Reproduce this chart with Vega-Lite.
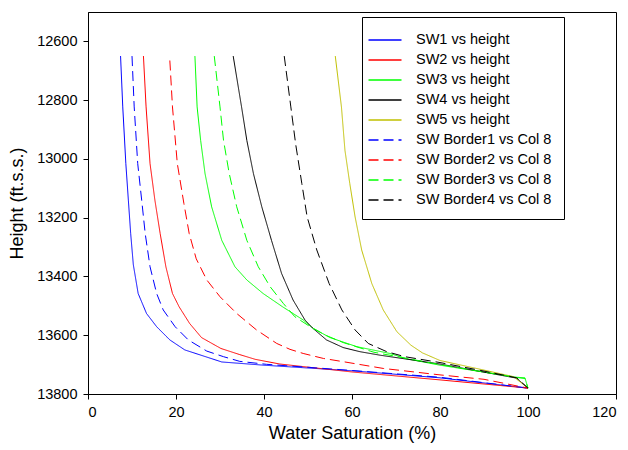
{
  "$schema": "https://vega.github.io/schema/vega-lite/v6.json",
  "width": 528,
  "height": 382,
  "autosize": {"type": "none"},
  "padding": {"left": 88, "top": 12, "right": 12, "bottom": 56},
  "background": "white",
  "config": {
    "font": "Liberation Sans",
    "view": {"stroke": "black", "strokeWidth": 1},
    "axis": {
      "grid": false,
      "domainColor": "black",
      "tickColor": "black",
      "labelColor": "black",
      "titleColor": "black",
      "labelFontSize": 14.5,
      "titleFontSize": 18,
      "titleFontWeight": "normal",
      "tickSize": 5,
      "labelPadding": 6
    },
    "legend": {
      "labelFontSize": 14.5,
      "labelColor": "black",
      "strokeColor": "black",
      "fillColor": "white",
      "padding": 12,
      "rowPadding": 2,
      "symbolStrokeWidth": 1.5,
      "symbolType": "M-1.65,0H1.65",
      "symbolSize": 400,
      "labelOffset": 20
    }
  },
  "data": {
    "values": [
      {"series": "SW1 vs height", "sw": 7.4, "h": 12650},
      {"series": "SW1 vs height", "sw": 7.9, "h": 12823},
      {"series": "SW1 vs height", "sw": 8.6, "h": 13016},
      {"series": "SW1 vs height", "sw": 9.17, "h": 13140},
      {"series": "SW1 vs height", "sw": 9.7, "h": 13254},
      {"series": "SW1 vs height", "sw": 10.3, "h": 13360},
      {"series": "SW1 vs height", "sw": 11.4, "h": 13458},
      {"series": "SW1 vs height", "sw": 13.3, "h": 13526},
      {"series": "SW1 vs height", "sw": 15.6, "h": 13571},
      {"series": "SW1 vs height", "sw": 18.6, "h": 13616},
      {"series": "SW1 vs height", "sw": 22.0, "h": 13650},
      {"series": "SW1 vs height", "sw": 30.4, "h": 13691},
      {"series": "SW1 vs height", "sw": 40, "h": 13702},
      {"series": "SW1 vs height", "sw": 60, "h": 13721},
      {"series": "SW1 vs height", "sw": 80, "h": 13745},
      {"series": "SW1 vs height", "sw": 100, "h": 13780},

      {"series": "SW2 vs height", "sw": 12.6, "h": 12650},
      {"series": "SW2 vs height", "sw": 13.2, "h": 12823},
      {"series": "SW2 vs height", "sw": 14.1, "h": 13016},
      {"series": "SW2 vs height", "sw": 15.2, "h": 13140},
      {"series": "SW2 vs height", "sw": 16.4, "h": 13254},
      {"series": "SW2 vs height", "sw": 17.7, "h": 13367},
      {"series": "SW2 vs height", "sw": 19.2, "h": 13458},
      {"series": "SW2 vs height", "sw": 20.7, "h": 13503},
      {"series": "SW2 vs height", "sw": 23.1, "h": 13560},
      {"series": "SW2 vs height", "sw": 25.8, "h": 13608},
      {"series": "SW2 vs height", "sw": 30.2, "h": 13645},
      {"series": "SW2 vs height", "sw": 34.5, "h": 13666},
      {"series": "SW2 vs height", "sw": 38.0, "h": 13682},
      {"series": "SW2 vs height", "sw": 43.6, "h": 13698},
      {"series": "SW2 vs height", "sw": 60, "h": 13725},
      {"series": "SW2 vs height", "sw": 80, "h": 13752},
      {"series": "SW2 vs height", "sw": 100, "h": 13780},

      {"series": "SW3 vs height", "sw": 24.3, "h": 12650},
      {"series": "SW3 vs height", "sw": 24.8, "h": 12823},
      {"series": "SW3 vs height", "sw": 25.6, "h": 12937},
      {"series": "SW3 vs height", "sw": 26.6, "h": 13050},
      {"series": "SW3 vs height", "sw": 28.1, "h": 13163},
      {"series": "SW3 vs height", "sw": 30.4, "h": 13277},
      {"series": "SW3 vs height", "sw": 33.4, "h": 13367},
      {"series": "SW3 vs height", "sw": 36.1, "h": 13412},
      {"series": "SW3 vs height", "sw": 39.8, "h": 13458},
      {"series": "SW3 vs height", "sw": 44.2, "h": 13503},
      {"series": "SW3 vs height", "sw": 48.9, "h": 13548},
      {"series": "SW3 vs height", "sw": 51.2, "h": 13577},
      {"series": "SW3 vs height", "sw": 55.0, "h": 13608},
      {"series": "SW3 vs height", "sw": 61.1, "h": 13639},
      {"series": "SW3 vs height", "sw": 68.6, "h": 13662},
      {"series": "SW3 vs height", "sw": 72.4, "h": 13680},
      {"series": "SW3 vs height", "sw": 80, "h": 13702},
      {"series": "SW3 vs height", "sw": 97.4, "h": 13743},
      {"series": "SW3 vs height", "sw": 99.3, "h": 13745},
      {"series": "SW3 vs height", "sw": 100, "h": 13780},

      {"series": "SW4 vs height", "sw": 33.0, "h": 12650},
      {"series": "SW4 vs height", "sw": 34.9, "h": 12823},
      {"series": "SW4 vs height", "sw": 36.1, "h": 12937},
      {"series": "SW4 vs height", "sw": 37.6, "h": 13050},
      {"series": "SW4 vs height", "sw": 39.5, "h": 13163},
      {"series": "SW4 vs height", "sw": 41.7, "h": 13277},
      {"series": "SW4 vs height", "sw": 44.0, "h": 13390},
      {"series": "SW4 vs height", "sw": 46.6, "h": 13480},
      {"series": "SW4 vs height", "sw": 49.3, "h": 13548},
      {"series": "SW4 vs height", "sw": 51.0, "h": 13575},
      {"series": "SW4 vs height", "sw": 54.2, "h": 13616},
      {"series": "SW4 vs height", "sw": 58.0, "h": 13642},
      {"series": "SW4 vs height", "sw": 61.8, "h": 13656},
      {"series": "SW4 vs height", "sw": 66.4, "h": 13668},
      {"series": "SW4 vs height", "sw": 80, "h": 13698},
      {"series": "SW4 vs height", "sw": 97.4, "h": 13746},
      {"series": "SW4 vs height", "sw": 100, "h": 13780},

      {"series": "SW5 vs height", "sw": 56.2, "h": 12650},
      {"series": "SW5 vs height", "sw": 57.6, "h": 12823},
      {"series": "SW5 vs height", "sw": 58.4, "h": 12971},
      {"series": "SW5 vs height", "sw": 59.5, "h": 13084},
      {"series": "SW5 vs height", "sw": 60.7, "h": 13197},
      {"series": "SW5 vs height", "sw": 62.2, "h": 13310},
      {"series": "SW5 vs height", "sw": 64.5, "h": 13424},
      {"series": "SW5 vs height", "sw": 67.1, "h": 13514},
      {"series": "SW5 vs height", "sw": 70.2, "h": 13588},
      {"series": "SW5 vs height", "sw": 73.4, "h": 13634},
      {"series": "SW5 vs height", "sw": 76, "h": 13660},
      {"series": "SW5 vs height", "sw": 80, "h": 13686},
      {"series": "SW5 vs height", "sw": 89.8, "h": 13718},
      {"series": "SW5 vs height", "sw": 96.7, "h": 13741},
      {"series": "SW5 vs height", "sw": 100, "h": 13780},

      {"series": "SW Border1 vs Col 8", "sw": 10.0, "h": 12650},
      {"series": "SW Border1 vs Col 8", "sw": 10.5, "h": 12823},
      {"series": "SW Border1 vs Col 8", "sw": 11.3, "h": 13016},
      {"series": "SW Border1 vs Col 8", "sw": 12.2, "h": 13140},
      {"series": "SW Border1 vs Col 8", "sw": 13.0, "h": 13254},
      {"series": "SW Border1 vs Col 8", "sw": 14.1, "h": 13367},
      {"series": "SW Border1 vs Col 8", "sw": 15.6, "h": 13458},
      {"series": "SW Border1 vs Col 8", "sw": 17.1, "h": 13514},
      {"series": "SW Border1 vs Col 8", "sw": 19.8, "h": 13571},
      {"series": "SW Border1 vs Col 8", "sw": 22.8, "h": 13616},
      {"series": "SW Border1 vs Col 8", "sw": 27.0, "h": 13654},
      {"series": "SW Border1 vs Col 8", "sw": 30.8, "h": 13673},
      {"series": "SW Border1 vs Col 8", "sw": 34.5, "h": 13689},
      {"series": "SW Border1 vs Col 8", "sw": 40.6, "h": 13699},
      {"series": "SW Border1 vs Col 8", "sw": 60, "h": 13720},
      {"series": "SW Border1 vs Col 8", "sw": 80, "h": 13743},
      {"series": "SW Border1 vs Col 8", "sw": 100, "h": 13780},

      {"series": "SW Border2 vs Col 8", "sw": 18.6, "h": 12665},
      {"series": "SW Border2 vs Col 8", "sw": 19.2, "h": 12823},
      {"series": "SW Border2 vs Col 8", "sw": 20.3, "h": 13016},
      {"series": "SW Border2 vs Col 8", "sw": 21.8, "h": 13152},
      {"series": "SW Border2 vs Col 8", "sw": 23.0, "h": 13254},
      {"series": "SW Border2 vs Col 8", "sw": 24.6, "h": 13340},
      {"series": "SW Border2 vs Col 8", "sw": 27.0, "h": 13412},
      {"series": "SW Border2 vs Col 8", "sw": 30.0, "h": 13469},
      {"series": "SW Border2 vs Col 8", "sw": 33.8, "h": 13526},
      {"series": "SW Border2 vs Col 8", "sw": 38.3, "h": 13582},
      {"series": "SW Border2 vs Col 8", "sw": 42.9, "h": 13628},
      {"series": "SW Border2 vs Col 8", "sw": 45.9, "h": 13648},
      {"series": "SW Border2 vs Col 8", "sw": 48.9, "h": 13662},
      {"series": "SW Border2 vs Col 8", "sw": 53.5, "h": 13679},
      {"series": "SW Border2 vs Col 8", "sw": 58, "h": 13690},
      {"series": "SW Border2 vs Col 8", "sw": 67.1, "h": 13713},
      {"series": "SW Border2 vs Col 8", "sw": 80, "h": 13735},
      {"series": "SW Border2 vs Col 8", "sw": 90, "h": 13750},
      {"series": "SW Border2 vs Col 8", "sw": 100, "h": 13780},

      {"series": "SW Border3 vs Col 8", "sw": 28.7, "h": 12650},
      {"series": "SW Border3 vs Col 8", "sw": 30.0, "h": 12823},
      {"series": "SW Border3 vs Col 8", "sw": 30.8, "h": 12937},
      {"series": "SW Border3 vs Col 8", "sw": 32.1, "h": 13050},
      {"series": "SW Border3 vs Col 8", "sw": 33.8, "h": 13163},
      {"series": "SW Border3 vs Col 8", "sw": 36.1, "h": 13277},
      {"series": "SW Border3 vs Col 8", "sw": 38.7, "h": 13367},
      {"series": "SW Border3 vs Col 8", "sw": 41.4, "h": 13435},
      {"series": "SW Border3 vs Col 8", "sw": 44.4, "h": 13492},
      {"series": "SW Border3 vs Col 8", "sw": 47.0, "h": 13537},
      {"series": "SW Border3 vs Col 8", "sw": 50.5, "h": 13571},
      {"series": "SW Border3 vs Col 8", "sw": 54, "h": 13600},
      {"series": "SW Border3 vs Col 8", "sw": 58, "h": 13625},
      {"series": "SW Border3 vs Col 8", "sw": 65, "h": 13658},
      {"series": "SW Border3 vs Col 8", "sw": 80, "h": 13700},
      {"series": "SW Border3 vs Col 8", "sw": 97.4, "h": 13744},
      {"series": "SW Border3 vs Col 8", "sw": 99.3, "h": 13747},
      {"series": "SW Border3 vs Col 8", "sw": 100, "h": 13780},

      {"series": "SW Border4 vs Col 8", "sw": 44.6, "h": 12650},
      {"series": "SW Border4 vs Col 8", "sw": 46.1, "h": 12823},
      {"series": "SW Border4 vs Col 8", "sw": 47.2, "h": 12950},
      {"series": "SW Border4 vs Col 8", "sw": 48.6, "h": 13084},
      {"series": "SW Border4 vs Col 8", "sw": 49.8, "h": 13197},
      {"series": "SW Border4 vs Col 8", "sw": 52.0, "h": 13310},
      {"series": "SW Border4 vs Col 8", "sw": 54.8, "h": 13424},
      {"series": "SW Border4 vs Col 8", "sw": 57.7, "h": 13514},
      {"series": "SW Border4 vs Col 8", "sw": 60.7, "h": 13582},
      {"series": "SW Border4 vs Col 8", "sw": 63.7, "h": 13628},
      {"series": "SW Border4 vs Col 8", "sw": 67.9, "h": 13656},
      {"series": "SW Border4 vs Col 8", "sw": 72.0, "h": 13673},
      {"series": "SW Border4 vs Col 8", "sw": 80, "h": 13693},
      {"series": "SW Border4 vs Col 8", "sw": 90, "h": 13722},
      {"series": "SW Border4 vs Col 8", "sw": 97.4, "h": 13745},
      {"series": "SW Border4 vs Col 8", "sw": 100, "h": 13780}
    ]
  },
  "mark": {"type": "line", "strokeWidth": 1, "clip": true},
  "encoding": {
    "x": {
      "field": "sw",
      "type": "quantitative",
      "scale": {"domain": [0, 120], "nice": false},
      "axis": {"title": "Water Saturation (%)", "values": [0, 20, 40, 60, 80, 100, 120], "titlePadding": 6}
    },
    "y": {
      "field": "h",
      "type": "quantitative",
      "scale": {"domain": [12500, 13800], "reverse": true, "nice": false, "zero": false},
      "axis": {"title": "Height (ft.s.s.)", "values": [12600, 12800, 13000, 13200, 13400, 13600, 13800], "format": "d", "titlePadding": 10}
    },
    "order": {"field": "h", "type": "quantitative"},
    "color": {
      "field": "series",
      "type": "nominal",
      "scale": {
        "domain": ["SW1 vs height", "SW2 vs height", "SW3 vs height", "SW4 vs height", "SW5 vs height", "SW Border1 vs Col 8", "SW Border2 vs Col 8", "SW Border3 vs Col 8", "SW Border4 vs Col 8"],
        "range": ["#0000ff", "#ff0000", "#00ff00", "#000000", "#c0c000", "#0000ff", "#ff0000", "#00ff00", "#000000"]
      },
      "legend": {
        "title": null,
        "orient": "none",
        "legendX": 274,
        "legendY": 5,
        "encode": {
          "symbols": {
            "update": {
              "strokeDash": {"scale": "strokeDash", "field": "value"}
            }
          }
        }
      }
    },
    "strokeDash": {
      "field": "series",
      "type": "nominal",
      "scale": {
        "domain": ["SW1 vs height", "SW2 vs height", "SW3 vs height", "SW4 vs height", "SW5 vs height", "SW Border1 vs Col 8", "SW Border2 vs Col 8", "SW Border3 vs Col 8", "SW Border4 vs Col 8"],
        "range": [[1, 0], [1, 0], [1, 0], [1, 0], [1, 0], [10, 5], [10, 5], [10, 5], [10, 5]]
      },
      "legend": null
    }
  }
}
